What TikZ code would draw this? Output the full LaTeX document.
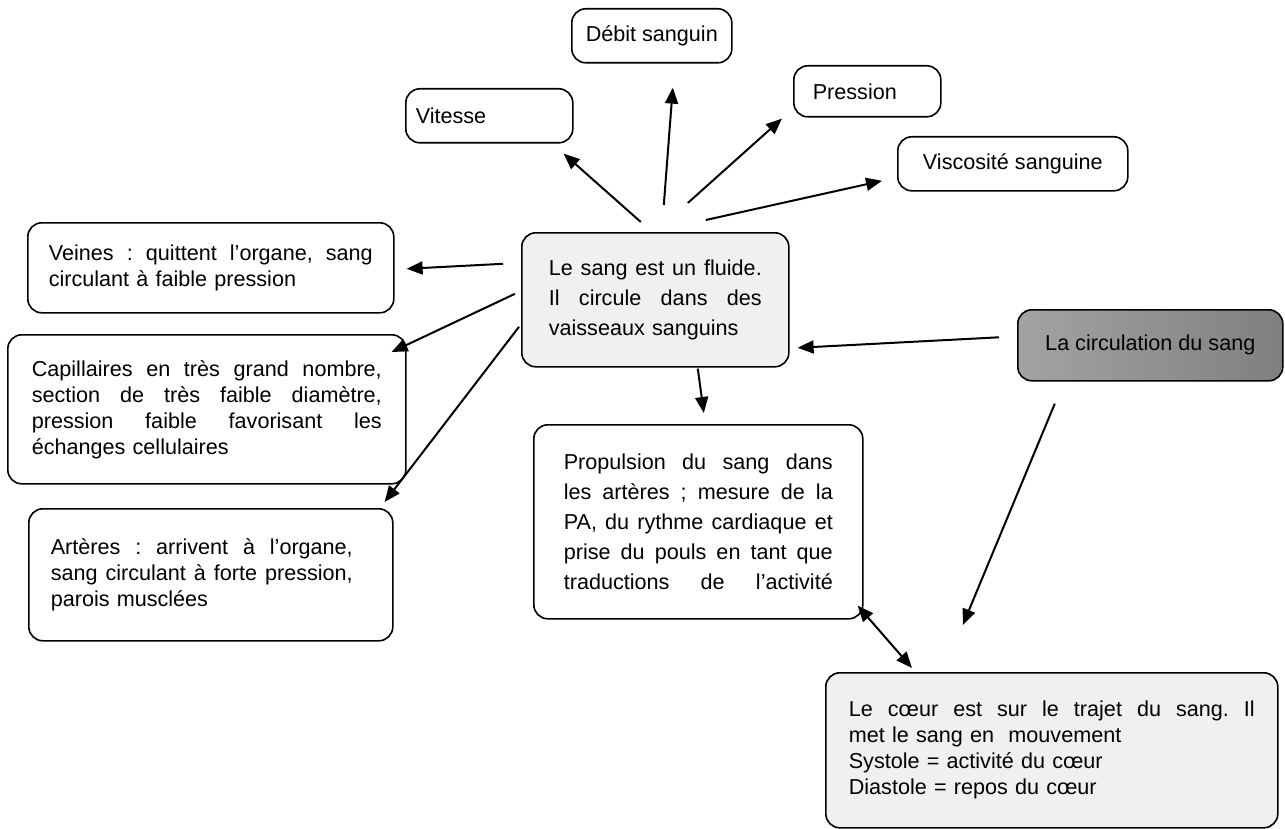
\documentclass[tikz,border=0pt]{standalone}
\usepackage{fontspec}
\setmainfont{Liberation Sans}
\usetikzlibrary{calc,arrows.meta}

\newcommand\jl[2][\hsize]{{\frenchspacing\spaceskip=0pt\xspaceskip=0pt\makebox[#1][s]{#2}}} % justified line

\begin{document}
\begin{tikzpicture}[x=0.5pt,y=-0.5pt,
  box/.style={draw, line width=0.8pt, rounded corners=7pt, anchor=north west,
    font=\fontsize{10.8}{13}\selectfont, align=left, inner ysep=0pt},
  wh/.style 2 args={minimum width=#1*0.5pt, minimum height=#2*0.5pt},
  arr/.style={line width=1pt, -{Triangle[length=8pt,width=6.5pt]}},
  dbl/.style={line width=1pt, {Triangle[length=8pt,width=6.5pt]}-{Triangle[length=8pt,width=6.5pt]}}]
  \useasboundingbox (0,0) rectangle (1285,829);

  % properties of the blood
  \node[box, wh={167}{54}, text width=73.5pt, inner xsep=5pt] (vitesse) at (405,88) {Vitesse};
  \node[box, wh={160}{54}, align=center] (debit) at (571,8) {Débit sanguin};
  \node[box, wh={147}{51}, text width=54.5pt, inner xsep=9.5pt] (pression) at (793,65) {Pression};
  \node[box, wh={230}{54}, align=center] (viscosite) at (897,136) {Viscosité sanguine};

  % centre of the map
  \node[box, fill=black!6, wh={267}{134}, text width=106.5pt, inner xsep=13.5pt,
    font=\fontsize{10.8}{15}\selectfont] (sang) at (521,232)
    {\jl{Le sang est un fluide.}\\ \jl{Il circule dans des}\\ vaisseaux sanguins};

  % vessels
  \node[box, wh={366}{90}, text width=162pt, inner xsep=10.5pt] (veines) at (27,222)
    {\jl{Veines : quittent l’organe, sang}\\ circulant à faible pression};
  \node[box, wh={398}{149}, text width=175pt, inner xsep=12pt] (capill) at (7,334)
    {\jl{Capillaires en très grand nombre,}\\ \jl{section de très faible diamètre,}\\
     \jl{pression faible favorisant les}\\ échanges cellulaires};
  \node[box, wh={364}{132}, text width=160pt, inner xsep=11pt] (arteres) at (28,508)
    {\jl[151pt]{Artères : arrivent à l’organe,}\\ \jl[151pt]{sang circulant à forte pression,}\\ parois musclées};

  % heart
  \node[box, wh={329}{194}, text width=134.5pt, inner xsep=15pt,
    font=\fontsize{10.8}{15}\selectfont] (propul) at (533,424)
    {\jl{Propulsion du sang dans}\\ \jl{les artères ; mesure de la}\\ \jl{PA, du rythme cardiaque et}\\
     \jl{prise du pouls en tant que}\\ \jl{traductions de l’activité}};
  \node[box, left color=black!36, middle color=black!3, right color=black!50,
    wh={265}{71}, align=center] (circul) at (1017,309) {La circulation du sang};
  \node[box, fill=black!6, wh={452}{155}, text width=203pt, inner xsep=11.5pt] (coeur) at (825,672)
    {\jl{Le cœur est sur le trajet du sang. Il}\\ met le sang en\ \ mouvement\\
     Systole = activité du cœur\\ Diastole = repos du cœur};

  % arrows
  \draw[arr] ($(sang.north)+(-14.5,-10)$) -- ($(vitesse.south east)+(-10,10)$);
  \draw[arr] ($(sang.north)+(8.5,-27)$) -- ($(debit.south)+(21,24)$);
  \draw[arr] ($(sang.north)+(32.5,-29)$) -- ($(pression.south west)+(-11,1)$);
  \draw[arr] ($(sang.north)+(50.5,-12)$) -- ($(viscosite.west)+(-15,17)$);
  \draw[arr] ($(sang.west)+(-18,-36)$) -- ($(veines.east)+(12,1)$);
  \draw[arr] ($(sang.west)+(-6,-6)$) -- ($(capill.north east)+(-15,18)$);
  \draw[arr] ($(sang.west)+(-2,27)$) -- ($(arteres.north east)+(-9,-6)$);
  \draw[arr] ($(sang.south)+(42.5,1)$) -- ($(propul.north)+(5.5,-11)$);
  \draw[arr] ($(circul.west)+(-18,-8)$) -- ($(sang.east)+(8,48)$);
  \draw[arr] ($(circul.south)+(-95.5,22)$) -- ($(coeur.north)+(-89,-47)$);
  \draw[dbl] ($(propul.south east)+(-6,-14)$) -- ($(coeur.north west)+(87,-4)$);
\end{tikzpicture}
\end{document}
